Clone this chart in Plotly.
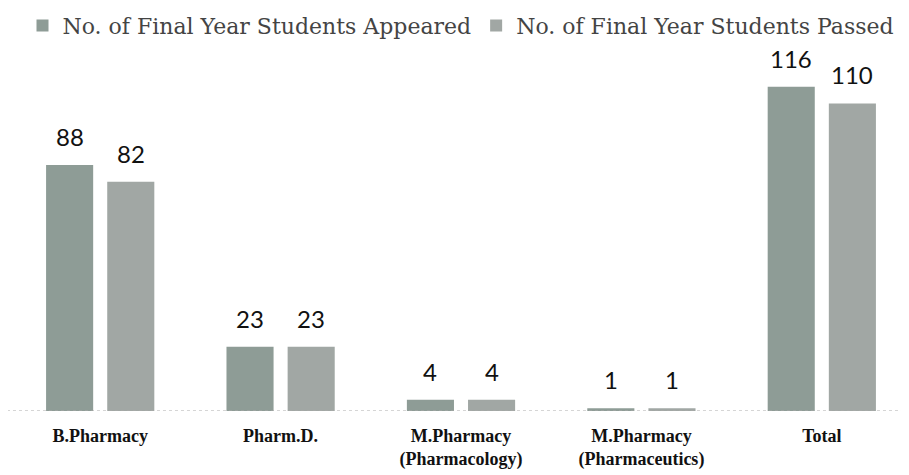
import plotly.graph_objects as go

categories = ["B.Pharmacy", "Pharm.D.", "M.Pharmacy<br>(Pharmacology)", "M.Pharmacy<br>(Pharmaceutics)", "Total"]
tick_labels = ["<b>" + c.replace("<br>", "</b><br><b>") + "</b>" for c in categories]
appeared = [88, 23, 4, 1, 116]
passed = [82, 23, 4, 1, 110]
series_names = ["No. of Final Year Students Appeared", "No. of Final Year Students Passed"]

colors = ["#8e9c96", "#a1a7a4"]
fig = go.Figure()
for name, vals, col in zip(series_names, [appeared, passed], colors):
    fig.add_trace(go.Bar(
        x=categories, y=vals, name=name,
        marker=dict(color=col, line=dict(width=0)),
    ))

# value labels placed through the data axes
label_font = dict(family="Lato", size=24, color="#111111")
for vals, shift in [(appeared, -30.6), (passed, 30.6)]:
    for c, v in zip(categories, vals):
        fig.add_annotation(x=c, y=v, text=str(v), showarrow=False,
                           xshift=shift, yshift=12, yanchor="bottom",
                           font=label_font)

fig.add_shape(type="line", xref="paper", yref="y", x0=-0.01, x1=1.0, y0=0, y1=0,
              line=dict(color="#aaaaaa", width=1, dash="dot"))

fig.update_layout(
    width=909, height=475,
    margin=dict(l=2, r=5, t=32, b=72, autoexpand=False),
    paper_bgcolor="white", plot_bgcolor="white",
    barmode="group", bargap=0.322, bargroupgap=0.23,
    showlegend=True,
    legend=dict(orientation="h", x=0.5, xanchor="center", yref="paper", y=1.095, yanchor="top",
                font=dict(family="DejaVu Serif", size=22, color="#444444"),
                itemwidth=30, tracegroupgap=0),
    xaxis=dict(showgrid=False, showline=False, zeroline=False, ticks="", automargin=False,
               tickmode="array", tickvals=categories, ticktext=tick_labels,
               tickfont=dict(family="Liberation Serif", size=18, color="#111111"),
               ticklabelstandoff=12),
    yaxis=dict(visible=False, range=[0, 132.7], automargin=False),
)
fig.write_html("out.html")
